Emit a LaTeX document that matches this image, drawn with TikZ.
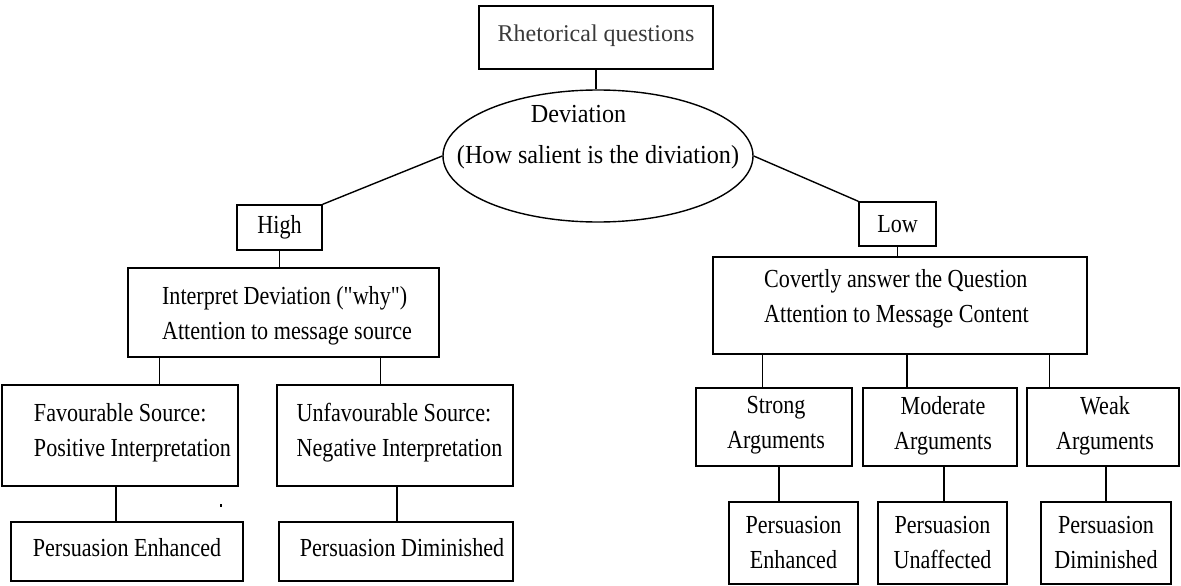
\documentclass[tikz,border=0pt]{standalone}
\usepackage{fontspec}
\setmainfont{Liberation Serif}
\newfontfamily\condf[FakeStretch=0.85]{Liberation Serif}
\newfontfamily\ellf[FakeStretch=0.93]{Liberation Serif}
\usetikzlibrary{shapes.geometric}
\definecolor{rqgray}{HTML}{3A3A3A}
\begin{document}
\begin{tikzpicture}[x=1pt,y=-1pt,
  box/.style={draw, line width=1.4pt, rectangle, inner sep=0pt},
  ovalbox/.style={draw, line width=1.4pt, ellipse, inner sep=0pt},
  txt/.style={inner sep=0pt, font=\condf\fontsize{26}{35}\selectfont},
  link/.style={line width=1.4pt}]
\useasboundingbox (0,0) rectangle (1181,586);
% top
\node[box, minimum width=234pt, minimum height=63pt,
  label={[inner sep=0pt, text=rqgray, font=\fontsize{24}{30}\selectfont, yshift=2pt]center:Rhetorical questions}] (rq) at (596,37.5) {};
\node[ovalbox, minimum width=310pt, minimum height=132pt,
  label={[inner sep=0pt, align=center, font=\ellf\fontsize{26}{41}\selectfont, yshift=18.5pt]center:Deviation\hspace*{39pt}\\(How salient is the diviation)}] (ell) at (598,156) {};
% level 2
\node[box, minimum width=85pt, minimum height=45pt,
  label={[txt]center:High}] (high) at (279.5,227.5) {};
\node[box, minimum width=77pt, minimum height=44pt,
  label={[txt]center:Low}] (low) at (897.5,224) {};
% level 3
\node[box, minimum width=311pt, minimum height=89pt,
  label={[txt, align=left, xshift=3.5pt, yshift=-3pt]center:Interpret Deviation ("why")\\Attention to message source}] (interp) at (283.5,312.5) {};
\node[box, minimum width=374pt, minimum height=97pt,
  label={[txt, align=left, xshift=-3.5pt, yshift=7pt]center:Covertly answer the Question\\Attention to Message Content}] (cov) at (900,305.5) {};
% level 4 left
\node[box, minimum width=236pt, minimum height=101pt,
  label={[txt, align=left, xshift=12.5pt, yshift=3pt]center:Favourable Source:\\Positive Interpretation}] (fav) at (120,435.5) {};
\node[box, minimum width=236pt, minimum height=101pt,
  label={[txt, align=left, xshift=4.5pt, yshift=3pt]center:Unfavourable Source:\\Negative Interpretation}] (unfav) at (395,435.5) {};
% level 4 right
\node[box, minimum width=156pt, minimum height=78pt,
  label={[txt, align=center, xshift=2pt, yshift=1.5pt]center:Strong\\Arguments}] (strong) at (774,427) {};
\node[box, minimum width=154pt, minimum height=78pt,
  label={[txt, align=center, xshift=3pt, yshift=1.5pt]center:Moderate\\Arguments}] (mod) at (940,427) {};
\node[box, minimum width=152pt, minimum height=78pt,
  label={[txt, align=center, xshift=2pt, yshift=1.5pt]center:Weak\\Arguments}] (weak) at (1103,427) {};
% level 5 left
\node[box, minimum width=232pt, minimum height=59pt,
  label={[txt, yshift=3.5pt]center:Persuasion Enhanced}] (pe) at (127,551.5) {};
\node[box, minimum width=234pt, minimum height=59pt,
  label={[txt, xshift=6pt, yshift=3.5pt]center:Persuasion Diminished}] (pd) at (396,551.5) {};
% level 5 right
\node[box, minimum width=129pt, minimum height=82pt,
  label={[txt, align=center]center:Persuasion\\Enhanced}] (pe2) at (793.5,543) {};
\node[box, minimum width=129pt, minimum height=82pt,
  label={[txt, align=center]center:Persuasion\\Unaffected}] (pu) at (942.5,543) {};
\node[box, minimum width=130pt, minimum height=82pt,
  label={[txt, align=center]center:Persuasion\\Diminished}] (pd2) at (1106,543) {};
% connector start points
\coordinate (c1) at ([xshift=32pt]interp.south west);
\coordinate (c2) at ([xshift=-59pt]interp.south east);
\coordinate (c3) at ([xshift=-4pt]fav.south);
\coordinate (c4) at ([xshift=2pt]unfav.south);
\coordinate (c5) at ([xshift=50pt]cov.south west);
\coordinate (c6) at ([xshift=7pt]cov.south);
\coordinate (c7) at ([xshift=-38pt]cov.south east);
\coordinate (c8) at ([xshift=5pt]strong.south);
\coordinate (c9) at ([xshift=4pt]mod.south);
\coordinate (c10) at ([xshift=3pt]weak.south);
% connectors
\draw[link] (rq.south) -- (rq.south |- ell.north);
\draw[link] (ell.west) -- (high.north east);
\draw[link] (ell.east) -- (low.north west);
\draw[link] (high.south) -- (high.south |- interp.north);
\draw[link] (low.south) -- (low.south |- cov.north);
\draw[link] (c1) -- (c1 |- fav.north);
\draw[link] (c2) -- (c2 |- unfav.north);
\draw[link] (c3) -- (c3 |- pe.north);
\draw[link] (c4) -- (c4 |- pd.north);
\draw[link] (c5) -- (c5 |- strong.north);
\draw[link] (c6) -- (c6 |- mod.north);
\draw[link] (c7) -- (c7 |- weak.north);
\draw[link] (c8) -- (c8 |- pe2.north);
\draw[link] (c9) -- (c9 |- pu.north);
\draw[link] (c10) -- (c10 |- pd2.north);
% stray dot
\fill (219.5,504) rectangle (222,506.5);
\end{tikzpicture}
\end{document}
